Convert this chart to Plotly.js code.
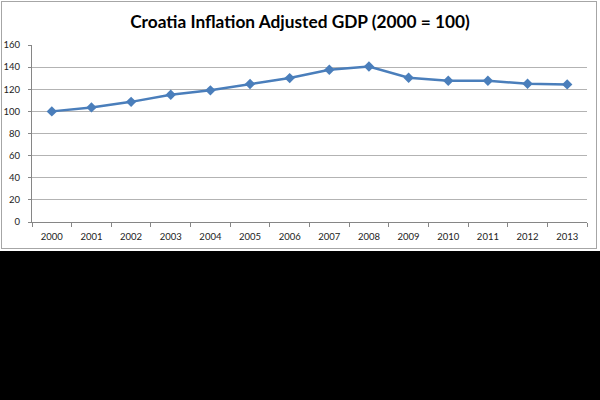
<!DOCTYPE html>
<html>
<head>
<meta charset="utf-8">
<script src="https://cdn.plot.ly/plotly-3.0.1.min.js"></script>
<style>
html,body{margin:0;padding:0;background:#000;width:600px;height:400px;overflow:hidden;}
#bg{position:absolute;left:0;top:0;width:600px;height:251px;background:#fff;}
#frame{position:absolute;left:1px;top:1px;width:596px;height:248px;box-sizing:border-box;border:1px solid #a6a6a6;}
#chart{position:absolute;left:0;top:0;width:600px;height:251px;}
</style>
</head>
<body>
<div id="bg"></div>
<div id="frame"></div>
<div id="chart"></div>
<script>
var years = ["2000","2001","2002","2003","2004","2005","2006","2007","2008","2009","2010","2011","2012","2013"];
var gdpIndex = [100, 103.6, 108.6, 115, 119, 124.7, 130.1, 137.6, 140.6, 130.4, 127.7, 127.7, 125, 124.4];
var yTicks = [0, 20, 40, 60, 80, 100, 120, 140, 160];
var chartTitle = "Croatia Inflation Adjusted GDP (2000 = 100)";

var trace = {
  x: years,
  y: gdpIndex,
  type: "scatter",
  mode: "lines+markers",
  line: {color: "#4a7ebb", width: 2.5},
  marker: {symbol: "diamond", size: 8, color: "#4a7ebb"},
  hoverinfo: "x+y"
};

var layout = {
  width: 600,
  height: 251,
  paper_bgcolor: "rgba(0,0,0,0)",
  plot_bgcolor: "rgba(0,0,0,0)",
  margin: {l: 32, r: 13, t: 45, b: 29, pad: 0},
  showlegend: false,
  title: {
    text: "<b>" + chartTitle + "</b>",
    x: 0.5, xref: "container", xanchor: "center",
    y: 0.937, yref: "container", yanchor: "top",
    automargin: false,
    font: {family: "Lato, 'Open Sans', sans-serif", size: 17.3, color: "#000"}
  },
  xaxis: {
    type: "category",
    automargin: false,
    range: [-0.5, years.length - 0.5],
    tickvals: years,
    ticktext: years,
    tickson: "boundaries",
    ticks: "outside",
    ticklen: 4,
    tickcolor: "#868686",
    showgrid: false,
    showline: true,
    linecolor: "#868686",
    linewidth: 1,
    zeroline: false,
    ticklabelstandoff: 6,
    tickfont: {family: "Lato, 'Open Sans', sans-serif", size: 9.5, color: "#222"},
    fixedrange: true
  },
  yaxis: {
    range: [0, 160],
    automargin: false,
    tickvals: yTicks,
    ticks: "outside",
    ticklen: 3,
    tickcolor: "#868686",
    showgrid: true,
    gridcolor: "#b3b3b3",
    gridwidth: 1,
    showline: true,
    linecolor: "#868686",
    linewidth: 1,
    zeroline: false,
    ticklabelstandoff: 6,
    tickfont: {family: "Lato, 'Open Sans', sans-serif", size: 9.5, color: "#222"},
    fixedrange: true
  }
};

Plotly.newPlot("chart", [trace], layout, {displayModeBar: false, staticPlot: true});
</script>
</body>
</html>
